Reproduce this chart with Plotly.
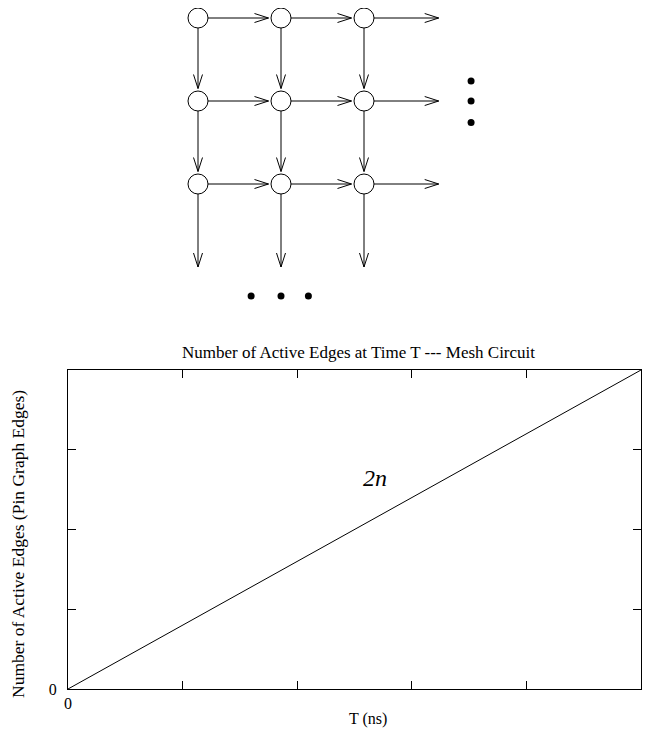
#!/usr/bin/env python3

import plotly.graph_objects as go

# page body adds an 8px margin, so the figure sits at (8, 8) on screen
OFF = 8
W, H = 650 - 2 * OFF, 736 - 2 * OFF

# mesh circuit: 3x3 grid of nodes, edges point right and down
mesh_cols = [0, 1, 2]
mesh_rows = [0, 1, 2]
dangling_right = 2.9   # where the loose right arrows stop
dangling_down = 3.0    # where the loose down arrows stop
dots_right = [0.76, 1.0, 1.26]   # vertical ellipsis (rows)
dots_below = [0.64, 1.0, 1.33]   # horizontal ellipsis (cols)

# chart data
t_ns = [0, 5]
active_edges = [0, 4]
x_ticks = [0, 1, 2, 3, 4, 5]
y_ticks = [0, 1, 2, 3, 4]
x_ticktext = ['0', '', '', '', '', '']
y_ticktext = ['0', '', '', '', '']

FONT = 'Liberation Serif, Times New Roman, serif'
UNIT = 83.0          # px per grid step in the mesh drawing
R = 10 / UNIT        # node radius
HEAD_L = 14 / UNIT
HEAD_W = 4.5 / UNIT


def px(x):
    return (x - OFF) / W


def py(y):
    return 1 - (y - OFF) / H


fig = go.Figure()

# --- mesh drawing in grid units ---
edges = []
for r in mesh_rows:
    for c in mesh_cols:
        # right edge
        x_end = c + 1 - R - 0.03 if c + 1 in mesh_cols else dangling_right
        edges.append(((c + R, r), (x_end, r)))
        # down edge
        y_end = r + 1 - R - 0.03 if r + 1 in mesh_rows else dangling_down
        edges.append(((c, r + R), (c, y_end)))

ex, ey = [], []
for (x0, y0), (x1, y1) in edges:
    ex += [x0, x1, None]
    ey += [y0, y1, None]
    if y0 == y1:  # horizontal, head points right
        ex += [x1 - HEAD_L, x1, x1 - HEAD_L, None]
        ey += [y1 - HEAD_W, y1, y1 + HEAD_W, None]
    else:         # vertical, head points down
        ex += [x1 - HEAD_W, x1, x1 + HEAD_W, None]
        ey += [y1 - HEAD_L, y1, y1 - HEAD_L, None]

fig.add_trace(go.Scatter(
    x=ex, y=ey, mode='lines', xaxis='x2', yaxis='y2',
    line=dict(color='black', width=1), hoverinfo='skip',
))

nx = [c for r in mesh_rows for c in mesh_cols]
ny = [r for r in mesh_rows for c in mesh_cols]
fig.add_trace(go.Scatter(
    x=nx, y=ny, mode='markers', xaxis='x2', yaxis='y2',
    marker=dict(symbol='circle', size=20, color='white',
                line=dict(color='black', width=1)),
    hoverinfo='skip',
))

fig.add_trace(go.Scatter(
    x=[3.29] * len(dots_right) + dots_below,
    y=dots_right + [3.35] * len(dots_below),
    mode='markers', xaxis='x2', yaxis='y2',
    marker=dict(symbol='circle', size=7, color='black'),
    hoverinfo='skip',
))

# --- the chart ---
fig.add_trace(go.Scatter(
    x=t_ns, y=active_edges, mode='lines',
    line=dict(color='black', width=1), hoverinfo='skip',
))

axis_common = dict(
    showline=True, linecolor='black', linewidth=1.3, mirror='ticks',
    ticks='inside', ticklen=8, tickcolor='black', tickwidth=1,
    showgrid=False, zeroline=False, automargin=False,
    tickfont=dict(family=FONT, size=16, color='black'),
)

fig.update_layout(
    width=W, height=H,
    margin=dict(l=0, r=0, t=0, b=0),
    paper_bgcolor='white', plot_bgcolor='rgba(0,0,0,0)',
    showlegend=False,
    xaxis=dict(domain=[px(68), px(641)], range=[0, 5], tickmode='array',
               tickvals=x_ticks, ticktext=x_ticktext, anchor='y',
               **axis_common),
    yaxis=dict(domain=[py(689), py(370)], range=[0, 4],
               tickmode='array', tickvals=y_ticks, ticktext=y_ticktext,
               anchor='x', ticklabelstandoff=7, **axis_common),
    xaxis2=dict(domain=[0, 1],
                range=[(OFF - 198) / UNIT, (OFF + W - 198) / UNIT],
                visible=False, anchor='y2', automargin=False),
    yaxis2=dict(domain=[0, 1],
                range=[(OFF + H - 18) / UNIT, (OFF - 18) / UNIT],
                visible=False, anchor='x2', automargin=False),
    annotations=[
        dict(text='Number of Active Edges at Time T --- Mesh Circuit',
             x=px(358), y=py(352), xref='paper', yref='paper',
             xanchor='center', yanchor='middle', showarrow=False,
             font=dict(family=FONT, size=17, color='black')),
        dict(text='T (ns)', x=px(368), y=py(719), xref='paper',
             yref='paper', xanchor='center', yanchor='middle',
             showarrow=False, font=dict(family=FONT, size=16, color='black')),
        dict(text='Number of Active Edges (Pin Graph Edges)', textangle=-90,
             x=px(18), y=py(544), xref='paper', yref='paper',
             xanchor='center', yanchor='middle', showarrow=False,
             font=dict(family=FONT, size=17.5, color='black')),
        dict(text='<i>2n</i>', x=px(375), y=py(478), xref='paper',
             yref='paper', xanchor='center', yanchor='middle',
             showarrow=False, font=dict(family=FONT, size=24, color='black')),
    ],
)

fig.write_html('out.html')
